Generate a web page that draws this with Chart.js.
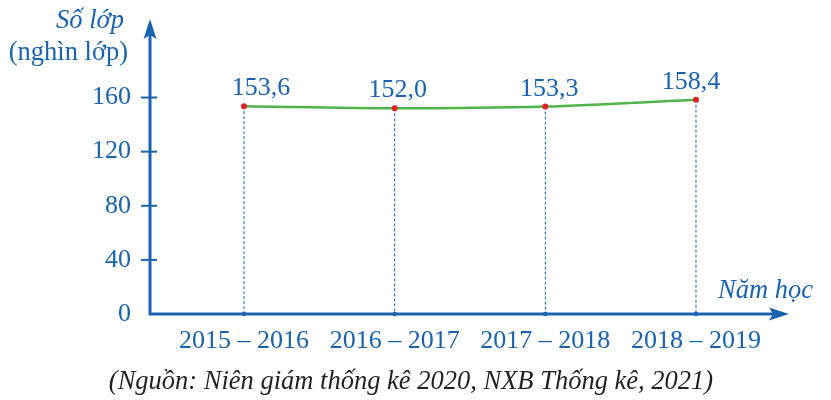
<!DOCTYPE html>
<html lang="vi">
<head>
<meta charset="UTF-8">
<title>Số lớp học</title>
<script src="https://cdn.jsdelivr.net/npm/chart.js"></script>
<style>
  html, body { margin: 0; padding: 0; background: #fff; }
  #chart { display: block; }
</style>
</head>
<body>
<canvas id="chart" width="831" height="400"></canvas>
<script>
// dữ liệu
const namHoc = ['2015 – 2016', '2016 – 2017', '2017 – 2018', '2018 – 2019'];
const soLop = [153.6, 152.0, 153.3, 158.4];
const yTicks = [0, 40, 80, 120, 160];
const nhan = ['153,6', '152,0', '153,3', '158,4'];

const BLUE = '#1a62ad';
const GREEN = '#4fb548';
const RED = '#e02027';
const SERIF = '"Liberation Serif", "DejaVu Serif", serif';

// trục, mũi tên, đường gióng, nhãn
const vePlugin = {
  id: 've',
  beforeDatasetsDraw(chart) {
    const ctx = chart.ctx;
    const x = chart.scales.x, y = chart.scales.y;
    const y0 = y.getPixelForValue(0);
    ctx.save();
    // đường gióng nét đứt
    ctx.strokeStyle = BLUE;
    ctx.lineWidth = 1;
    ctx.setLineDash([3, 2]);
    soLop.forEach((v, i) => {
      const px = x.getPixelForValue(i);
      ctx.beginPath();
      ctx.moveTo(px, y.getPixelForValue(v));
      ctx.lineTo(px, y0);
      ctx.stroke();
    });
    ctx.setLineDash([]);
    // trục
    const ax = x.left;
    ctx.lineWidth = 3;
    ctx.beginPath();
    ctx.moveTo(ax, y0);
    ctx.lineTo(ax, 34);
    ctx.moveTo(ax - 1.5, y0);
    ctx.lineTo(774, y0);
    ctx.stroke();
    ctx.fillStyle = BLUE;
    // mũi tên dọc
    ctx.beginPath();
    ctx.moveTo(ax, 19);
    ctx.lineTo(ax - 6.5, 39);
    ctx.lineTo(ax, 35);
    ctx.lineTo(ax + 6.5, 39);
    ctx.closePath();
    ctx.fill();
    // mũi tên ngang
    ctx.beginPath();
    ctx.moveTo(789, y0);
    ctx.lineTo(769, y0 - 6.5);
    ctx.lineTo(773, y0);
    ctx.lineTo(769, y0 + 6.5);
    ctx.closePath();
    ctx.fill();
    // vạch chia trục tung
    ctx.lineWidth = 2;
    yTicks.forEach(v => {
      if (v === 0) return;
      const py = y.getPixelForValue(v);
      ctx.beginPath();
      ctx.moveTo(ax - 9, py);
      ctx.lineTo(ax + 7, py);
      ctx.stroke();
    });
    // chấm nhỏ trên trục hoành
    soLop.forEach((v, i) => {
      ctx.beginPath();
      ctx.arc(x.getPixelForValue(i), y0, 2.2, 0, Math.PI * 2);
      ctx.fill();
    });
    ctx.restore();
  },
  afterDraw(chart) {
    const ctx = chart.ctx;
    const x = chart.scales.x, y = chart.scales.y;
    const lech = [17, 3, 4, -5];
    ctx.save();
    ctx.fillStyle = BLUE;
    ctx.textBaseline = 'alphabetic';
    // nhãn giá trị
    ctx.font = '26px ' + SERIF;
    ctx.textAlign = 'center';
    soLop.forEach((v, i) => {
      ctx.fillText(nhan[i], x.getPixelForValue(i) + lech[i], y.getPixelForValue(v) - 11);
    });
    // tên trục
    ctx.textAlign = 'right';
    ctx.font = 'italic 26.5px ' + SERIF;
    ctx.fillText('Số lớp', 124, 28);
    ctx.font = '26.5px ' + SERIF;
    ctx.fillText('(nghìn lớp)', 128, 60);
    ctx.textAlign = 'left';
    ctx.font = 'italic 26.5px ' + SERIF;
    ctx.fillText('Năm học', 718, 298);
    // nguồn
    ctx.fillStyle = '#231f20';
    ctx.textAlign = 'center';
    ctx.font = 'italic 26.5px ' + SERIF;
    ctx.fillText('(Nguồn: Niên giám thống kê 2020, NXB Thống kê, 2021)', 411, 389);
    ctx.restore();
  }
};

new Chart(document.getElementById('chart'), {
  type: 'line',
  data: {
    datasets: [{
      data: soLop.map((v, i) => ({ x: i, y: v })),
      borderColor: GREEN,
      borderWidth: 2.5,
      pointRadius: 3,
      pointBackgroundColor: RED,
      pointBorderWidth: 0,
      cubicInterpolationMode: 'monotone',
      tension: 0.3
    }]
  },
  options: {
    responsive: false,
    animation: false,
    layout: { padding: { top: 84, right: 41, left: 0, bottom: 0 } },
    plugins: { legend: { display: false }, tooltip: { enabled: false } },
    scales: {
      x: {
        type: 'linear',
        min: -0.624,
        max: 3.624,
        afterBuildTicks: s => { s.ticks = namHoc.map((_, i) => ({ value: i })); },
        afterFit: s => { s.height = 86; },
        grid: { display: false, drawTicks: false },
        border: { display: false },
        ticks: {
          callback: v => namHoc[v],
          color: BLUE,
          font: { family: SERIF, size: 26 },
          padding: 12,
          maxRotation: 0,
          autoSkip: false
        }
      },
      y: {
        min: 0,
        max: 170,
        afterBuildTicks: s => { s.ticks = yTicks.map(v => ({ value: v })); },
        afterFit: s => { s.width = 150; },
        grid: { display: false, drawTicks: false },
        border: { display: false },
        ticks: {
          color: BLUE,
          font: { family: SERIF, size: 26 },
          padding: 19
        }
      }
    }
  },
  plugins: [vePlugin]
});
</script>
</body>
</html>
